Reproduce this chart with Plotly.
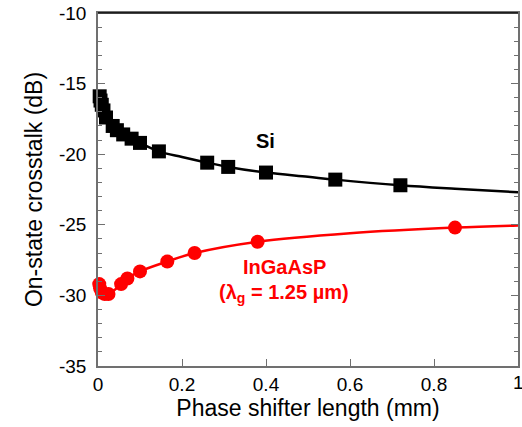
import plotly.graph_objects as go

# Si (squares) measured points
si_x = [0.004, 0.006, 0.009, 0.013, 0.019, 0.035, 0.045, 0.06, 0.08, 0.10, 0.145, 0.26, 0.31, 0.40, 0.565, 0.72]
si_y = [-15.9, -16.2, -16.5, -16.9, -17.4, -18.0, -18.3, -18.6, -18.9, -19.2, -19.8, -20.6, -20.9, -21.3, -21.8, -22.2]
# Si fitted curve
si_fit_x = [0.0, 0.004, 0.01, 0.02, 0.035, 0.06, 0.10, 0.145, 0.2, 0.26, 0.31, 0.40, 0.5, 0.565, 0.72, 0.85, 1.0]
si_fit_y = [-15.6, -15.9, -16.6, -17.3, -18.0, -18.6, -19.2, -19.8, -20.2, -20.6, -20.9, -21.3, -21.6, -21.8, -22.2, -22.45, -22.7]

# InGaAsP (circles) measured points
in_x = [0.003, 0.005, 0.009, 0.016, 0.025, 0.055, 0.07, 0.10, 0.165, 0.23, 0.38, 0.85]
in_y = [-29.2, -29.5, -29.8, -29.9, -29.9, -29.2, -28.8, -28.3, -27.6, -27.0, -26.2, -25.2]
# InGaAsP fitted curve
in_fit_x = [0.0, 0.003, 0.009, 0.016, 0.025, 0.04, 0.055, 0.07, 0.10, 0.165, 0.23, 0.38, 0.6, 0.85, 1.0]
in_fit_y = [-29.0, -29.2, -29.7, -29.9, -29.9, -29.6, -29.2, -28.8, -28.3, -27.6, -27.0, -26.2, -25.6, -25.2, -25.05]

x_ticks = [0, 0.2, 0.4, 0.6, 0.8, 1]
x_tick_labels = ["0", "0.2", "0.4", "0.6", "0.8", ""]
x_last_label = "1"
y_ticks = [-35, -30, -25, -20, -15, -10]
y_tick_labels = ["-35", "-30", "-25", "-20", "-15", "-10"]

FONT = "Liberation Sans, Arial, sans-serif"
AX = "#707070"

fig = go.Figure()
fig.add_trace(go.Scatter(x=si_fit_x, y=si_fit_y, mode="lines", line=dict(color="black", width=2.5, shape="spline"),
                         hoverinfo="skip", showlegend=False))
fig.add_trace(go.Scatter(x=si_x, y=si_y, mode="markers", marker=dict(symbol="square", size=14, color="black"),
                         cliponaxis=False, showlegend=False))
fig.add_trace(go.Scatter(x=in_fit_x, y=in_fit_y, mode="lines", line=dict(color="#ff0000", width=2.5, shape="spline"),
                         hoverinfo="skip", showlegend=False))
fig.add_trace(go.Scatter(x=in_x, y=in_y, mode="markers", marker=dict(symbol="circle", size=14, color="#ff0000"),
                         cliponaxis=False, showlegend=False))

fig.add_annotation(x=0.398, y=-19.07, text="<b>Si</b>", showarrow=False,
                   font=dict(family=FONT, size=20, color="black"))
fig.add_annotation(x=0.443, y=-28.0, text="<b>InGaAsP</b>", showarrow=False,
                   font=dict(family=FONT, size=20, color="#ff0000"))
fig.add_annotation(x=0.443, y=-29.9, text="<b>(λ<sub>g</sub> = 1.25 µm)</b>", showarrow=False,
                   font=dict(family=FONT, size=20, color="#ff0000"))
# last x tick label at the right edge (partly cut by the page edge as in the original)
fig.add_annotation(x=1, y=0, xref="x", yref="paper", yanchor="top", yshift=-4, text=x_last_label,
                   showarrow=False, font=dict(family=FONT, size=19, color="black"))
# black top frame line
fig.add_shape(type="line", xref="paper", yref="paper", x0=0, x1=1, y0=1, y1=1,
              line=dict(color="black", width=1.5))

fig.update_layout(
    width=522, height=427,
    margin=dict(l=98, r=2, t=13, b=61),
    paper_bgcolor="white", plot_bgcolor="white",
    font=dict(family=FONT, size=19, color="black"),
    xaxis=dict(range=[0, 1], tickvals=x_ticks, ticktext=x_tick_labels, ticks="inside", ticklen=7,
               tickcolor=AX, showline=True, linecolor=AX, linewidth=1.5, mirror=True,
               showgrid=False, zeroline=False,
               title=dict(text="Phase shifter length (mm)", font=dict(size=23), standoff=2)),
    yaxis=dict(range=[-35, -10], tickvals=y_ticks, ticktext=y_tick_labels, ticks="inside", ticklen=7,
               tickcolor=AX, showline=True, linecolor=AX, linewidth=1.5, mirror="allticks",
               ticklabelstandoff=6,
               minor=dict(dtick=1, ticks="inside", ticklen=4, tickcolor=AX),
               showgrid=False, zeroline=False,
               title=dict(text="On-state crosstalk (dB)", font=dict(size=23), standoff=10)),
)

fig.write_html("out.html")
